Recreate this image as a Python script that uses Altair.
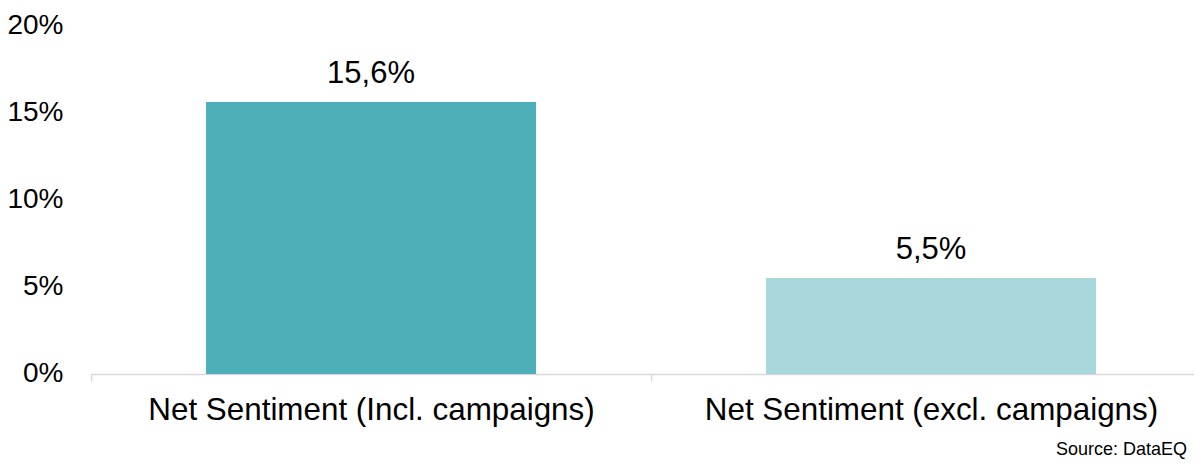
import altair as alt
import pandas as pd

categories = ["Net Sentiment (Incl. campaigns)", "Net Sentiment (excl. campaigns)"]
values = [15.6, 5.5]
colors = ["#4DB0B8", "#A8D8DC"]
y_ticks = [0, 5, 10, 15, 20]
source_text = "Source: DataEQ"

df = pd.DataFrame({"category": categories, "value": values, "color": colors})

FONT = "Liberation Sans"

x_enc = alt.X(
    "category:N",
    sort=categories,
    scale=alt.Scale(paddingInner=0, paddingOuter=0),
    axis=alt.Axis(
        title=None,
        labelAngle=0,
        labelFont=FONT,
        labelFontSize=31.4,
        labelColor="#000000",
        labelBaseline="alphabetic",
        labelPadding=39,
        labelLimit=0,
        tickBand="extent",
        ticks=True,
        tickSize=7,
        tickColor="#D9D9D9",
        tickWidth=1.5,
        domainColor="#D9D9D9",
        domainWidth=1.5,
        grid=False,
    ),
)

y_enc = alt.Y(
    "value:Q",
    scale=alt.Scale(domain=[0, 20], nice=False, zero=True),
    axis=alt.Axis(
        title=None,
        values=y_ticks,
        labelExpr="datum.value + '%'",
        labelFont=FONT,
        labelFontSize=28,
        labelColor="#000000",
        labelPadding=28,
        ticks=False,
        domain=False,
        grid=False,
    ),
)

bars = alt.Chart(df).mark_bar(width=alt.RelativeBandSize(330 / 560)).encode(
    x=x_enc,
    y=y_enc,
    color=alt.Color("color:N", scale=None, legend=None),
)

labels = (
    alt.Chart(df)
    .transform_calculate(label="replace(format(datum.value, '.1f'), '.', ',') + '%'")
    .mark_text(font=FONT, fontSize=31, color="#000000", baseline="alphabetic", dy=-19)
    .encode(
        x=alt.X("category:N", sort=categories),
        y=alt.Y("value:Q"),
        text="label:N",
    )
)

source = (
    alt.Chart(pd.DataFrame({"t": [source_text]}))
    .mark_text(font=FONT, fontSize=18, color="#000000", align="left", baseline="alphabetic")
    .encode(x=alt.value(965), y=alt.value(430), text="t:N")
)

chart = (
    alt.layer(bars, labels, source)
    .properties(
        width=1120,
        height=348.6,
        autosize=alt.AutoSizeParams(type="none"),
        padding={"left": 83, "top": 17.3, "right": -17, "bottom": 86},
        background="#FFFFFF",
    )
    .configure_view(stroke=None)
)

chart.save("out.html", embed_options={"renderer": "svg", "actions": False})
